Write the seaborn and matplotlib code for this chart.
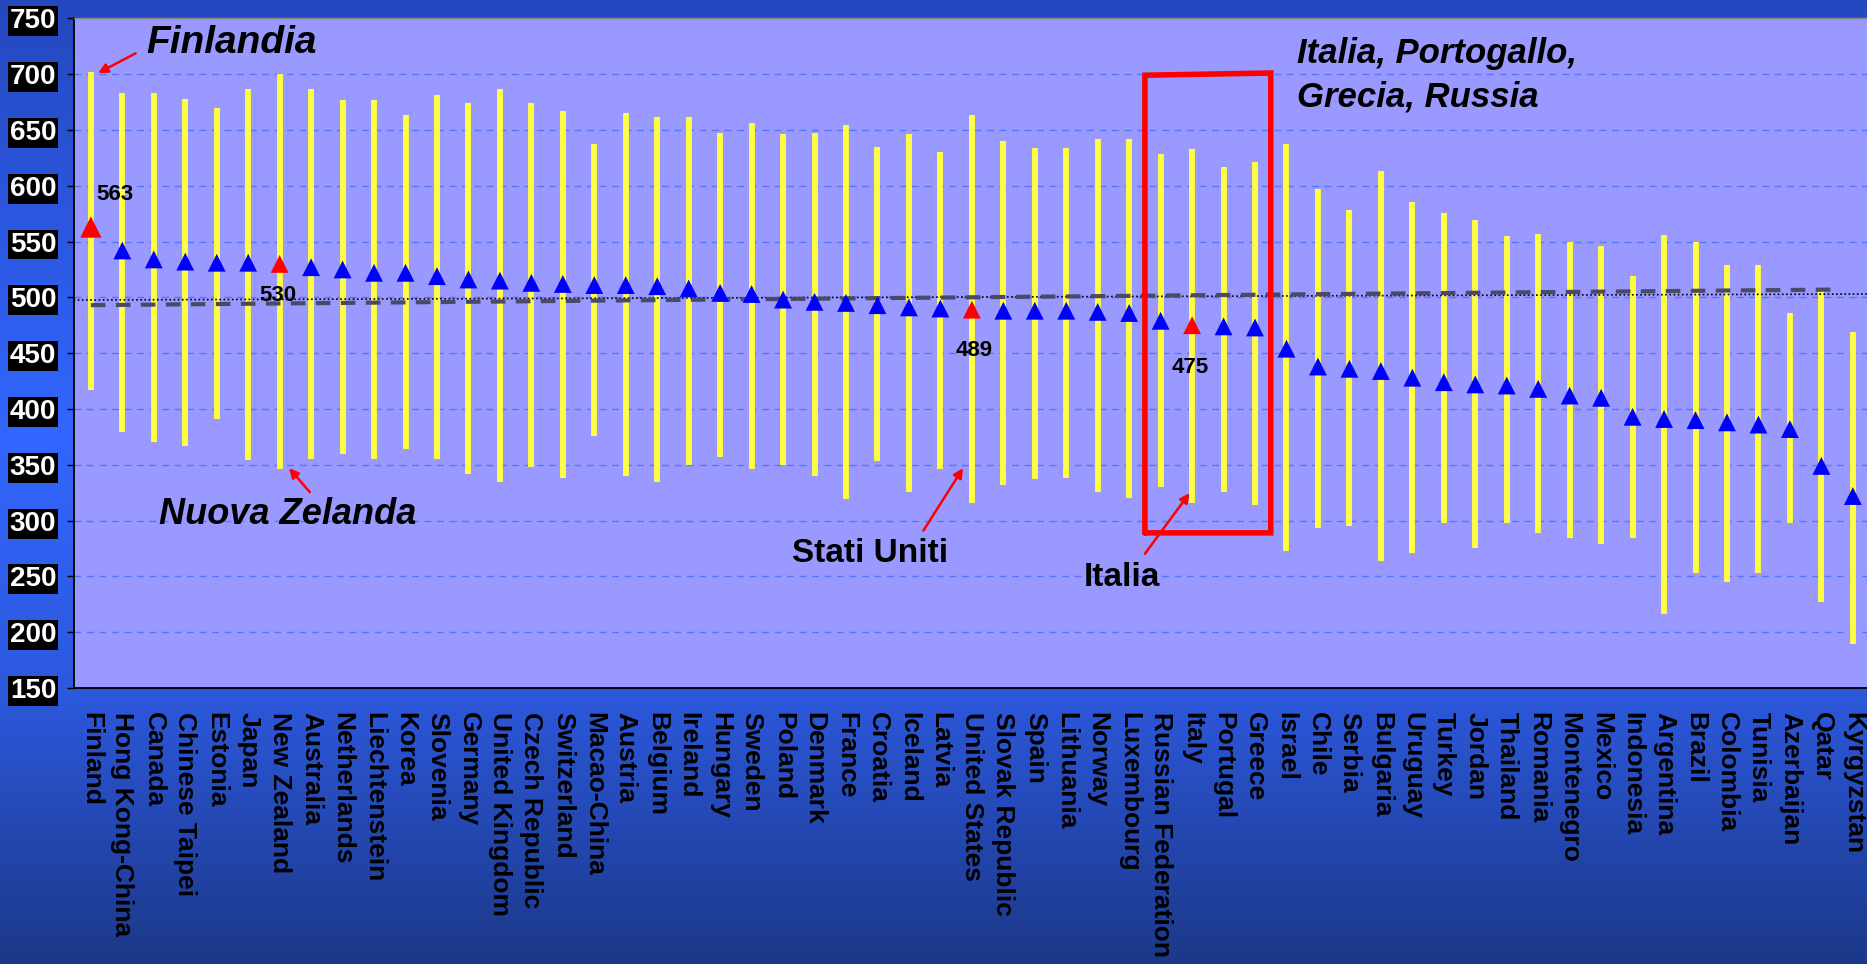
import numpy as np
import pandas as pd
import seaborn as sns
import matplotlib.pyplot as plt
from matplotlib.colors import to_rgb

# PISA 2006 - scienze: media e intervallo per paese
countries = ["Finland", "Hong Kong-China", "Canada", "Chinese Taipei", "Estonia", "Japan",
             "New Zealand", "Australia", "Netherlands", "Liechtenstein", "Korea", "Slovenia",
             "Germany", "United Kingdom", "Czech Republic", "Switzerland", "Macao-China",
             "Austria", "Belgium", "Ireland", "Hungary", "Sweden", "Poland", "Denmark", "France",
             "Croatia", "Iceland", "Latvia", "United States", "Slovak Republic", "Spain",
             "Lithuania", "Norway", "Luxembourg", "Russian Federation", "Italy", "Portugal",
             "Greece", "Israel", "Chile", "Serbia", "Bulgaria", "Uruguay", "Turkey", "Jordan",
             "Thailand", "Romania", "Montenegro", "Mexico", "Indonesia", "Argentina", "Brazil",
             "Colombia", "Tunisia", "Azerbaijan", "Qatar", "Kyrgyzstan"]
means = [563, 542, 534, 532, 531, 531, 530, 527, 525, 522, 522, 519, 516, 515, 513, 512, 511,
         511, 510, 508, 504, 503, 498, 496, 495, 493, 491, 490, 489, 488, 488, 488, 487, 486,
         479, 475, 474, 473, 454, 438, 436, 434, 428, 424, 422, 421, 418, 412, 410, 393, 391,
         390, 388, 386, 382, 349, 322]
high = [702, 683, 683, 678, 670, 687, 700, 687, 677, 677, 663, 681, 674, 687, 674, 667, 637,
        665, 662, 662, 647, 656, 646, 647, 654, 635, 646, 630, 663, 640, 634, 634, 642, 642,
        628, 633, 617, 621, 637, 597, 578, 613, 585, 576, 569, 555, 557, 550, 546, 519, 556,
        550, 529, 529, 486, 506, 469]
low = [417, 379, 370, 367, 391, 354, 346, 355, 360, 355, 364, 355, 342, 335, 348, 338, 376,
       340, 335, 350, 357, 346, 350, 340, 319, 353, 326, 346, 316, 332, 337, 338, 326, 320,
       330, 316, 326, 314, 273, 293, 295, 264, 271, 298, 275, 298, 289, 284, 279, 284, 216,
       253, 245, 253, 298, 227, 189]
highlight = ["Finland", "New Zealand", "United States", "Italy"]

# linee di riferimento (media OCSE), leggermente inclinate nell'originale
dotted_x = [-0.55, 56.45]
dotted_y = [497.6, 503.0]
dashed_x = [0, 55.5]
dashed_y = [493, 507]

# riquadro rosso Italia/Portogallo/Grecia/Russia
box_x = [33.5, 33.5, 37.5, 37.5, 33.5]
box_y = [289, 699, 701, 289, 289]

df = pd.DataFrame({"country": countries, "mean": means, "low": low, "high": high})
df["pos"] = np.arange(len(df))
df["group"] = np.where(df["country"].isin(highlight), "hl", "other")
df["sz"] = np.where(df["country"] == "Finland", 2, 1)

sns.set_theme(style="white")
plt.rcParams["font.family"] = ["Liberation Sans", "DejaVu Sans"]
plt.rcParams["text.color"] = "black"

fig = plt.figure(figsize=(18.67, 9.64), dpi=100)

# sfondo sfumato blu
bg = fig.add_axes([0, 0, 1, 1], zorder=0)
stops = [(0.0, "#2448be"), (0.45, "#3366ff"), (0.72, "#2c58dc"), (1.0, "#1c3888")]
t = np.linspace(0, 1, 400)
grad = np.zeros((400, 1, 3))
for c in range(3):
    grad[:, 0, c] = np.interp(t, [s[0] for s in stops], [to_rgb(s[1])[c] for s in stops])
bg.imshow(grad, aspect="auto", extent=[0, 1, 0, 1])
bg.axis("off")

ax = fig.add_axes([0.0394, 0.2863, 0.9606, 0.6947], zorder=1)
ax.set_facecolor("#9999ff")

ax.vlines(df["pos"], df["low"], df["high"], color="#ffff40", lw=4.2, zorder=2)
ax.plot(dotted_x, dotted_y, color="black", lw=1.2, ls=(0, (1, 1.5)), zorder=3)
ax.plot(dashed_x, dashed_y, color="#4a4a68", lw=3, ls=(0, (3.5, 2.5)), zorder=3)

sns.scatterplot(data=df, x="pos", y="mean", hue="group", size="sz", sizes=(165, 235),
                palette={"hl": "red", "other": "blue"}, marker="^", linewidth=0,
                legend=False, ax=ax, zorder=4)

ax.plot(box_x, box_y, color="red", lw=4, zorder=5, solid_joinstyle="miter")

ax.set_xlim(-0.55, 56.45)
ax.set_ylim(150, 750)
ax.set_yticks(range(150, 751, 50))
ax.yaxis.grid(True, color="#5577ff", linestyle=(0, (5, 4)), lw=1)
ax.xaxis.grid(False)
ax.set_axisbelow(True)
ax.set_xlabel("")
ax.set_ylabel("")

ax.tick_params(axis="y", left=True, length=5.4, width=1, color="black", direction="out",
               pad=7, labelsize=20, labelcolor="white")
for lab in ax.get_yticklabels():
    lab.set_fontweight("bold")
    lab.set_bbox(dict(facecolor="black", edgecolor="none", pad=1.5))

ax.set_xticks(df["pos"])
ax.set_xticklabels(countries, rotation=270, fontsize=19, fontweight="bold", color="black",
                   va="top", ha="center")
ax.tick_params(axis="x", length=0, pad=17)

for side in ["left", "bottom"]:
    ax.spines[side].set_color("black")
    ax.spines[side].set_linewidth(1.3)
ax.spines["top"].set_color("#888888")
ax.spines["top"].set_linewidth(1)
ax.spines["right"].set_visible(False)

arrow = dict(arrowstyle="-|>", color="red", lw=1.8, mutation_scale=14, shrinkA=0, shrinkB=0)
big = dict(fontweight="bold", style="italic", color="black")
num = dict(fontsize=16, fontweight="bold", color="black", ha="center", va="center")

ax.text(1.76, 727.5, "Finlandia", fontsize=28, ha="left", va="center", **big)
ax.annotate("", xy=(0.23, 701), xytext=(1.42, 718.6), arrowprops=arrow)
ax.text(0.76, 592, "563", **num)
ax.text(5.96, 501.5, "530", **num)
ax.text(6.27, 305.8, "Nuova Zelanda", fontsize=26, ha="center", va="center", **big)
ax.annotate("", xy=(6.3, 347), xytext=(6.96, 325.5), arrowprops=arrow)

ax.text(28.09, 452.4, "489", **num)
ax.text(24.78, 270.3, "Stati Uniti", fontsize=24, fontweight="bold", color="black",
        ha="center", va="center")
ax.annotate("", xy=(27.72, 347), xytext=(26.46, 291), arrowprops=arrow)

ax.text(34.95, 437.2, "475", **num)
ax.text(32.77, 249.4, "Italia", fontsize=24, fontweight="bold", color="black",
        ha="center", va="center")
ax.annotate("", xy=(34.92, 324.6), xytext=(33.5, 270.3), arrowprops=arrow)

ax.text(38.33, 718.6, "Italia, Portogallo,", fontsize=25, ha="left", va="center", **big)
ax.text(38.33, 679.6, "Grecia, Russia", fontsize=25, ha="left", va="center", **big)

fig.savefig("out.png", dpi=100)
